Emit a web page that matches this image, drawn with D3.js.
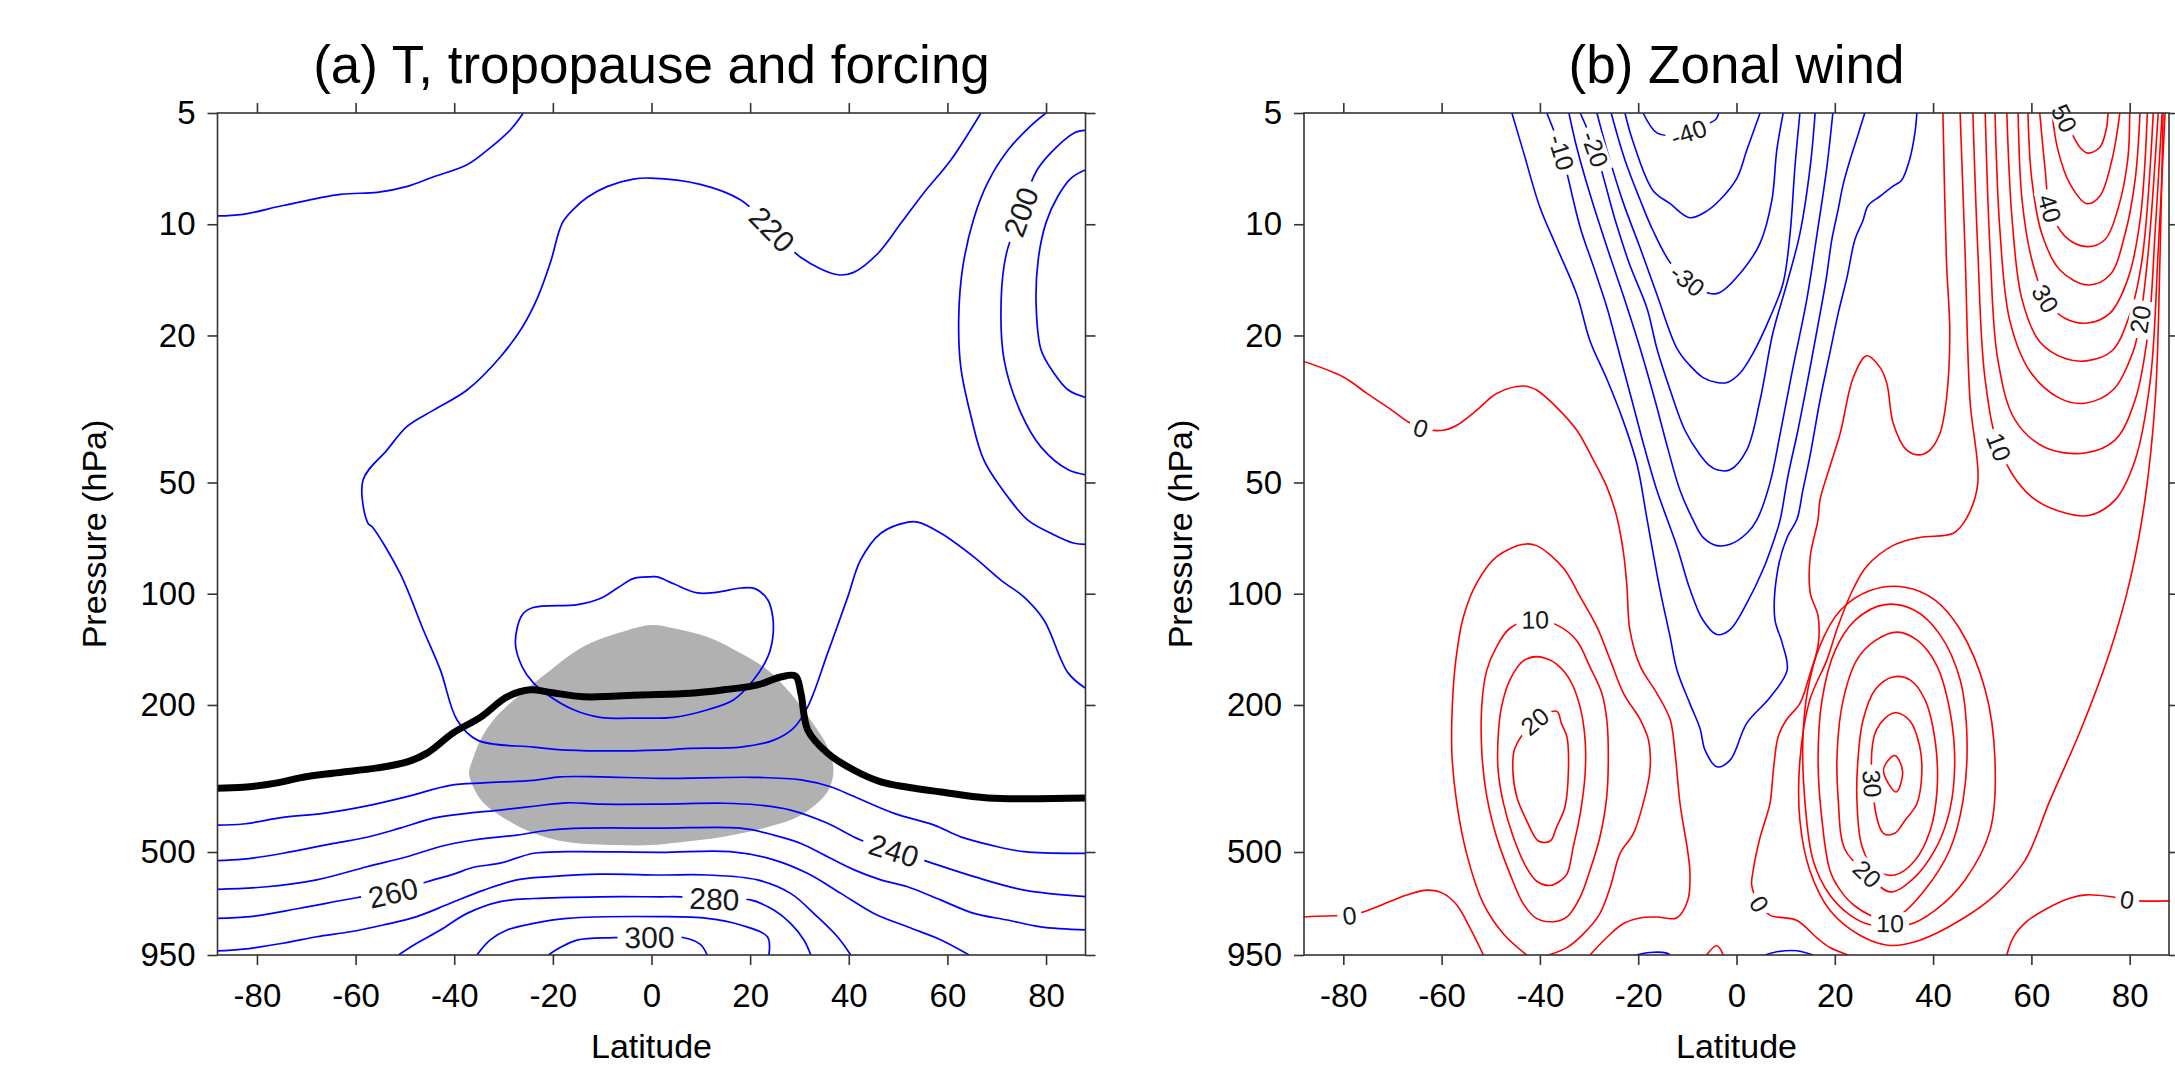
<!DOCTYPE html>
<html><head><meta charset="utf-8">
<script src="https://cdn.jsdelivr.net/npm/d3@7"></script>
<style>
body{margin:0;background:#fff;}
svg{display:block;font-family:"Liberation Sans",Arial,Helvetica,sans-serif;}
</style></head><body>
<svg id="chart" width="2175" height="1069"></svg>
<script>
// ---------- axes ----------
const latTicks = [-80, -60, -40, -20, 0, 20, 40, 60, 80];
const presTicks = [5, 10, 20, 50, 100, 200, 500, 950];
const latDomain = [-88, 88];
const presDomain = [5, 950];

// ---------- (a) temperature (K): contours as [latitude, pressure hPa] ----------
const T190 = [[88.3,7.1],[85.1,7.5],[82.4,8.4],[80.0,9.9],[78.4,12.5],[78.0,16.7],[79.0,21.9],[81.6,25.3],[84.5,28.1],[88.3,29.5]];
const T200 = [[88.3,5.56],[85.7,5.66],[81.0,6.4],[78.0,7.2],[74.9,9.25],[71.9,12.1],[70.9,16.0],[71.5,23.3],[74.9,32.4],[79.0,40.1],[84.5,46.2],[88.3,47.7]];
const T210polar = [[80.0,5.0],[77.0,5.4],[72.3,6.3],[68.2,7.7],[65.4,9.6],[63.1,13.1],[62.3,17.8],[62.7,24.3],[64.8,33.2],[67.4,43.5],[72.3,54.8],[76.3,63.2],[81.0,68.6],[85.7,73],[88.3,73.5]];
const T210trop = [[-24.0,109],[-15.0,107],[-10.4,103],[-6.9,96.5],[-3.7,91],[-0.2,90],[1.2,90],[4.5,94],[9.3,99.5],[13.4,99],[18.1,96.5],[21.1,97],[23.6,104],[24.6,116],[24.6,131],[23.6,148],[20.7,171],[16.6,194],[11.4,206],[4.5,216],[-2.2,217],[-10.4,216],[-15.8,206],[-20.5,190],[-24.0,174],[-26.2,158],[-27.6,136],[-26.2,114]];
const T220 = [[66.8,5.0],[60.7,6.7],[55.2,8.23],[50.6,9.93],[45.9,12.0],[41.0,13.5],[37.8,13.7],[30.3,12.3],[24.4,10.3],[18.1,8.6],[9.9,7.8],[-0.2,7.5],[-3.7,7.55],[-8.9,7.9],[-13.0,8.45],[-15.8,9.1],[-18.1,9.93],[-20.5,12.7],[-23.1,15.8],[-26.2,19.0],[-30.7,22.9],[-37.4,28.1],[-44.3,31.9],[-49.5,35.2],[-53.6,40.8],[-58.5,49.3],[-57.5,64.4],[-56.6,66],[-51.0,88],[-46.3,125],[-42.8,161],[-39.4,220],[-35.3,249],[-24.0,260],[-17.1,265],[1.8,265],[7.9,262],[18.1,260],[24.8,249],[28.8,231],[31.7,202],[35.7,145],[39.8,102],[42.4,81],[46.5,68.6],[52.0,64],[54.0,64],[58.7,68.6],[65.4,79.6],[70.9,92],[75.5,102],[79.6,118],[84.5,164],[88.5,182]];
const T230top = [[-88.5,9.5],[-82.8,9.4],[-74.7,8.9],[-63.1,8.3],[-55.6,8.2],[-49.5,7.9],[-44.3,7.45],[-37.4,6.9],[-33.3,6.3],[-28.6,5.55],[-26,5.0]];
const T230 = [[-88.5,423],[-82.8,420],[-74.7,403],[-66.5,393],[-57.7,375],[-49.6,354],[-40.8,330],[-34.0,325],[-23.9,320],[-18.5,313],[-10.4,313],[1.8,316],[20.8,314],[30.3,319],[36.3,333],[41.1,354],[49.2,393],[57.3,423],[62.7,455],[68.8,479],[75.6,499],[88.5,504]];
const T240 = [[-88.5,528],[-82.8,523],[-74.7,504],[-64.5,474],[-57.7,456],[-51.0,431],[-44.2,405],[-37.4,393],[-30.7,385],[-23.9,376],[-17.1,368],[-10.4,371],[1.8,371],[14.7,369],[21.5,373],[28.2,385],[35.7,418],[42.4,464],[49.1,495],[56.0,531],[65.4,583],[75.6,634],[88.5,661]];
const T250 = [[-88.5,631],[-78.0,621],[-67.9,595],[-57.7,548],[-49.6,515],[-42.8,483],[-36.1,464],[-27.3,450],[-20.5,436],[-13.7,431],[1.8,431],[18.1,431],[24.8,450],[30.3,474],[35.7,515],[41.1,559],[46.5,595],[51.9,621],[58.7,675],[65.4,733],[72.2,764],[78.9,797],[88.5,813]];
const T260 = [[-88.5,756],[-81.4,748],[-71.3,710],[-59.8,665],[-52.4,644],[-45.5,602],[-40.1,574],[-36.1,550],[-30.7,536],[-23.9,504],[-17.1,499],[1.8,501],[16.0,499],[24.8,525],[31.6,571],[38.4,647],[45.1,733],[51.9,797],[58.7,865],[64.4,950]];
const T270 = [[-88.5,927],[-82.8,916],[-74.7,883],[-67.9,848],[-61.1,822],[-54.4,788],[-47.6,748],[-40.8,688],[-34.0,634],[-27.3,595],[-20.5,583],[-10.4,574],[1.8,577],[11.3,577],[21.5,595],[28.2,647],[33.6,748],[37.7,848],[40.4,950]];
const T280 = [[-51.3,950],[-47.6,883],[-42.8,813],[-37.4,733],[-30.7,681],[-23.9,668],[-10.4,661],[1.8,661],[5.9,661],[13.0,670],[20.1,674],[24.8,718],[28.2,780],[30.9,865],[32.3,950]];
const T290 = [[-35.4,950],[-32.7,865],[-29.3,813],[-23.9,780],[-17.1,756],[1.8,748],[11.3,756],[18.1,788],[23.5,848],[23.8,950]];
const T300 = [[-20.9,950],[-18.5,907],[-15.1,866],[-7.7,853],[-0.6,850],[6.6,853],[9.9,889],[11.3,950]];
// label spots [level, latitude, pressure]
const tempLabelSpots = [[220,24.4,10.3],[200,74.9,9.25],[240,49.1,495],[260,-52.4,644],[280,13.0,670],[300,-0.6,850]];
// heating region outline and tropopause
const forcing = [[0,121.5],[4.5,124],[11.4,131],[18.1,145],[23.6,161],[28.2,186],[32.3,220],[35.7,260],[36.9,300],[35.9,340],[33.7,368],[29.6,402],[23.6,428],[14.6,455],[4.5,473],[0,479],[-6.9,479],[-17.1,470],[-24.0,444],[-29.2,410],[-34.1,368],[-36.1,334],[-37.0,306],[-36.3,282],[-34.7,249],[-32.1,220],[-27.2,190],[-20.5,161],[-13.8,139],[-6.9,128]];
const tropopause = [[-88.5,336],[-82.8,334],[-75.9,325],[-71.3,315],[-64.6,306],[-55.6,296],[-49.5,285],[-45.5,270],[-40.2,238],[-34.7,216],[-29.2,190],[-24.6,182],[-20.5,185],[-13.8,190],[-2.2,188],[7.9,186],[14.6,182],[21.5,176.5],[26.2,168],[29.2,167],[30.3,186],[31.7,234],[35.7,270],[41.0,300],[46.5,323],[52.0,334],[58.7,344],[68.2,357],[88.5,357]];

// ---------- (b) zonal wind (m/s) ----------
const Um5 = [[-45.7,5.0],[-43.4,6.34],[-40.0,9.0],[-36.5,11.6],[-32.5,15.5],[-29.8,20.7],[-26.3,26.4],[-23.1,33.9],[-20.2,44.9],[-18.2,62.9],[-15.6,97],[-13.5,131],[-12.1,161],[-9.5,198],[-7.4,232],[-6.4,265],[-4.0,294],[-1.3,282],[2.1,224],[6.8,191],[10.3,161],[9.3,136],[7.8,117],[8.4,86],[10.3,70.4],[12.3,62.9],[13.5,52.5],[15.0,42.1],[17.0,29.9],[19.0,22.3],[20.7,17.4],[22.5,13.9],[24.1,11.0],[25.7,9.8],[26.8,8.9],[29.2,8.4],[31.8,7.9],[33.6,7.6],[35.2,6.7],[36.3,5.66],[36.7,5.0]];
const Um5sfcA = [[-20.4,950],[-17.6,935],[-14.2,939],[-13.5,950]];
const Um5sfcB = [[5.8,950],[8.2,931],[12.3,925],[15.6,950]];
const Um10 = [[-38.6,5.0],[-35.7,6.34],[-31.8,10.2],[-29.2,12.9],[-26.3,16.9],[-24.1,21.7],[-21.3,29.9],[-18.6,40.8],[-16.2,52.5],[-14.1,62.9],[-12.1,74.6],[-9.5,97],[-6.8,118],[-4.0,129],[-1.3,125],[2.1,106],[5.4,86],[7.8,70.4],[8.9,62.9],[10.5,47.8],[12.5,36.1],[14.5,26.4],[16.4,19.3],[18.2,14.2],[19.4,11.0],[20.7,9.1],[21.7,7.8],[23.1,6.7],[24.7,5.74],[26.1,5.0]];
const Um15 = [[-34.1,5.0],[-32.5,6.2],[-29.8,8.3],[-26.3,11.6],[-23.1,15.5],[-19.6,21.7],[-16.6,29.9],[-13.9,40.8],[-11.5,52.5],[-8.9,62.9],[-6.8,70.4],[-4.0,74.1],[-1.3,73.5],[2.1,68.6],[4.2,62.9],[6.8,50.2],[8.9,36.8],[11.5,24.4],[14.3,16.0],[16.4,10.6],[18.4,6.98],[19.6,5.0]];
const Um20 = [[-31.8,5.0],[-28.8,6.25],[-24.5,9.93],[-21.7,12.9],[-18.2,16.9],[-16.2,21.7],[-13.5,28.1],[-10.5,36.1],[-7.4,42.1],[-5.4,45.1],[-4.0,46.2],[-1.3,46.2],[2.1,40.8],[4.8,29.9],[7.4,19.7],[10.3,14.4],[12.9,10.6],[15.0,6.98],[16.0,5.0]];
const Um25 = [[-28.4,5.0],[-26.3,6.34],[-23.1,8.7],[-19.6,11.6],[-16.2,15.5],[-12.1,21.7],[-9.5,24.1],[-6.8,26.0],[-4.0,26.8],[-1.9,26.8],[0.7,25.3],[3.4,22.3],[6.8,17.9],[9.5,14.4],[10.9,10.6],[11.9,6.98],[12.9,5.0]];
const Um30 = [[-25.5,5.0],[-22.7,6.7],[-19.6,8.6],[-17.0,10.4],[-13.5,12.7],[-9.9,14.2],[-5.4,15.4],[-3.4,15.3],[1.3,13.3],[4.8,11.25],[7.2,8.6],[8.2,6.3],[9.5,5.0]];
const Um35 = [[-22.7,5.0],[-21.1,5.95],[-17.0,8.1],[-13.5,8.8],[-9.5,9.6],[-6.0,9.2],[-3.4,8.6],[0.1,7.5],[2.1,6.3],[4.8,5.0]];
const Um40 = [[-19.0,5.0],[-16.2,5.66],[-12.5,5.75],[-9.5,5.63],[-6.5,5.4],[-4.2,5.2],[-3.6,5.0]];
const U0sh = [[-88.5,23.4],[-80.0,25.9],[-75.2,28.7],[-70.5,31.6],[-66.8,34.3],[-64.0,35.7],[-59.7,36.1],[-56.9,35.0],[-52.9,31.9],[-48.8,28.7],[-43.4,27.4],[-40.7,28.1],[-36.6,31.3],[-32.5,36.1],[-29.1,43.5],[-26.4,51.3],[-24.4,61.6],[-23.0,77.4],[-22.3,95.4],[-21.7,125],[-19.6,157],[-16.2,186],[-13.5,219],[-12.5,270],[-11.5,369],[-9.5,560],[-9.9,674],[-12.2,754],[-16.2,750],[-19.6,754],[-23.0,781],[-26.4,852],[-29.8,950]];
const U0sw = [[-88.5,750],[-80.7,743],[-79.0,743],[-76.3,729],[-70.5,681],[-67.1,654],[-63.0,634],[-59.7,647],[-56.9,696],[-54.2,804],[-51.5,950]];
const U0eq = [[-6.1,950],[-4.0,897],[-2.7,950]];
const U0nh = [[42.0,5.0],[42.7,12.4],[43.4,19.8],[42.7,29.9],[41.4,36.8],[39.4,40.8],[37.3,42.1],[34.6,40.8],[31.9,34.6],[30.6,27.0],[29.2,24.4],[26.5,22.7],[23.8,25.9],[21.1,36.8],[19.0,45.3],[17.0,55.6],[16.6,62.9],[15.0,79.4],[15.0,99.4],[16.6,115],[16.6,138],[15.0,164],[12.9,198],[10.2,219],[8.5,243],[7.5,301],[6.8,370],[4.8,456],[3.4,560],[3.1,616],[4.6,689],[6.8,741],[12.2,765],[16.3,852],[19.0,907],[22.7,950]];
const U0ne = [[55.0,950],[56.3,852],[59.0,772],[63.1,712],[67.8,667],[71.2,653],[75.9,660],[79.2,672],[82.1,678],[88.5,678]];
const U5sh = [[-42.7,950],[-47.4,834],[-51.5,690],[-54.9,506],[-56.9,370],[-57.9,272],[-57.8,198],[-57.1,151],[-55.6,116],[-52.9,93.8],[-48.8,79.4],[-43.4,73.5],[-40.7,74.1],[-35.2,85.3],[-31.8,102],[-28.4,123],[-25.7,151],[-23.0,186],[-19.6,219],[-17.9,249],[-17.6,300],[-19.0,370],[-21.0,446],[-23.7,505],[-25.7,623],[-27.8,734],[-31.2,834],[-34.5,907],[-38.3,950]];
const U10sh = [[-46.1,124],[-48.8,139],[-50.8,161],[-51.8,198],[-51.8,271],[-50.8,354],[-48.8,456],[-46.1,573],[-43.4,690],[-40.7,756],[-37.3,772],[-34.5,749],[-31.8,662],[-29.8,560],[-27.8,456],[-26.4,354],[-26.1,260],[-26.4,219],[-27.4,186],[-29.8,158],[-32.5,134],[-36.3,122],[-41.2,117.5]];
const U15sh = [[-40.7,148],[-43.4,152],[-46.1,171],[-47.8,202],[-48.5,244],[-48.5,301],[-47.4,370],[-45.4,456],[-42.7,552],[-40.7,599],[-37.9,616],[-35.9,599],[-34.5,574],[-33.2,483],[-31.8,394],[-30.8,307],[-30.8,249],[-31.8,203],[-33.9,171],[-36.6,155],[-38.6,150]];
const U20sh = [[-45.1,262],[-45.5,301],[-44.7,355],[-42.7,411],[-40.3,467],[-37.9,467],[-36.6,428],[-34.9,377],[-34.2,301],[-34.5,244],[-35.6,225],[-36.6,208],[-41.2,222]];
const U5nh = [[45.5,5.0],[46.5,11.8],[47.5,29.9],[49.1,50.2],[46.9,62.1],[44.1,68.6],[37.3,70.4],[31.8,74.1],[26.5,84.3],[23.6,98],[20.6,123],[18.4,151],[14.9,194],[12.9,283],[12.9,411],[14.9,560],[19.0,719],[25.1,840],[31.2,895],[37.3,866],[45.5,765],[52.6,654],[58.7,527],[63.8,362],[69.9,236],[76.0,143],[80.1,91.6],[83.1,55.8],[85.2,29.9],[86.2,11.8],[86.8,5.0]];
const U10nh = [[15.6,527],[13.9,362],[13.5,249],[14.5,182],[17.0,138],[21.1,111],[27.2,98],[34.3,96],[40.4,104],[45.5,125],[50.6,182],[52.6,283],[51.6,437],[46.5,595],[40.4,719],[34.9,787],[31.2,779],[27.2,787],[23.1,741],[19.0,654]];
const U15nh = [[19.0,560],[17.4,411],[16.6,283],[17.4,194],[20.0,143],[24.1,118],[30.2,107],[36.3,111],[41.4,129],[45.5,171],[46.9,249],[46.1,362],[43.4,493],[38.3,634],[33.2,741],[29.2,756],[24.1,700],[21.1,634]];
const U20nh = [[22.1,493],[20.7,362],[20.5,265],[21.7,194],[24.5,151],[28.2,134],[32.7,127],[36.9,134],[40.8,157],[43.4,207],[44.4,283],[43.4,385],[40.4,493],[35.7,595],[31.2,641],[26.5,571]];
const U25nh = [[25.7,221],[28.2,182],[31.8,168],[35.3,171],[38.3,193],[40.4,249],[40.8,341],[39.4,437],[36.3,527],[32.2,577],[28.2,560],[25.5,481],[24.5,362],[24.7,283]];
const U30nh = [[28.5,233],[32.2,210],[35.3,221],[37.3,260],[37.7,307],[36.7,370],[34.3,410],[32.2,445],[29.9,445],[27.6,326]];
const U35nh = [[32.2,274],[33.8,303],[32.5,344],[29.9,300]];
const U10np = [[48.1,5.0],[49.1,11.8],[50.6,26.4],[53.6,40.8],[59.7,54.2],[66.9,60.5],[71.9,61.3],[77.0,55.8],[81.1,43.5],[84.2,26.4],[85.8,11.8],[87.2,5.0]];
const U15np = [[50.6,5.0],[51.6,11.8],[53.2,23.4],[56.7,33.9],[62.8,40.2],[70.9,41.6],[77.0,38.4],[81.1,29.9],[83.8,19.3],[85.2,10.4],[86.6,5.0]];
const U20np = [[52.6,5.0],[53.6,10.4],[55.6,18.2],[59.7,25.0],[65.8,29.6],[70.9,30.5],[76.6,28.1],[80.7,22.1],[82.1,18.2],[83.8,11.8],[85.8,5.0]];
const U25np = [[55.0,5.0],[56.1,9.8],[58.1,16.0],[61.7,20.8],[66.9,23.1],[71.5,23.4],[76.4,22.0],[80.0,17.6],[82.5,12.5],[84.8,5.0]];
const U30np = [[57.3,5.0],[58.1,8.6],[60.1,12.5],[63.0,16.0],[66.9,18.0],[71.5,18.5],[76.0,17.4],[79.6,14.1],[82.1,9.8],[83.6,5.0]];
const U35np = [[59.3,5.0],[60.1,7.6],[62.2,10.7],[65.8,13.3],[71.5,14.6],[76.0,13.7],[79.0,10.7],[81.1,7.6],[82.1,5.0]];
const U40np = [[61.7,5.0],[62.8,7.1],[63.8,9.1],[66.9,10.8],[71.3,11.5],[75.0,11.0],[77.6,9.1],[79.6,6.69],[80.0,5.0]];
const U45np = [[64.2,5.0],[65.4,6.3],[67.9,7.8],[71.3,8.8],[73.9,8.4],[76.4,6.69],[78.0,5.0]];
const U50np = [[66.2,5.0],[67.9,5.56],[69.9,6.2],[71.5,6.42],[73.9,6.2],[75.2,5.56],[75.6,5.0]];
const windLabelSpots = [[-10,-35.7,6.34],[-20,-28.8,6.25],[-30,-9.9,14.2],[-40,-9.5,5.63],[0,-64.0,35.7],[0,-79.0,743],[10,-41.2,117.5],[20,-41.2,222],[0,4.6,689],[20,26.5,571],[10,31.2,779],[30,27.6,326],[0,79.2,672],[50,65.6,5.3],[40,63.8,9.1],[30,63.0,16.0],[20,82.0,18.0],[10,55.0,39.4]];

// ---------- tables built from the arrays ----------
const tempContours = [
  {level:190, pts:T190}, {level:200, pts:T200}, {level:210, pts:T210polar},
  {level:210, pts:T210trop, closed:true}, {level:220, pts:T220}, {level:230, pts:T230top},
  {level:230, pts:T230}, {level:240, pts:T240}, {level:250, pts:T250}, {level:260, pts:T260},
  {level:270, pts:T270}, {level:280, pts:T280}, {level:290, pts:T290}, {level:300, pts:T300}
];
const windContours = [
  {level:-5, pts:Um5}, {level:-5, pts:Um5sfcA}, {level:-5, pts:Um5sfcB},
  {level:-10, pts:Um10}, {level:-15, pts:Um15}, {level:-20, pts:Um20}, {level:-25, pts:Um25},
  {level:-30, pts:Um30}, {level:-35, pts:Um35}, {level:-40, pts:Um40},
  {level:0, pts:U0sh}, {level:0, pts:U0sw}, {level:0, pts:U0eq}, {level:0, pts:U0nh}, {level:0, pts:U0ne},
  {level:5, pts:U5sh}, {level:10, pts:U10sh, closed:true}, {level:15, pts:U15sh, closed:true}, {level:20, pts:U20sh, closed:true},
  {level:5, pts:U5nh}, {level:10, pts:U10nh, closed:true}, {level:15, pts:U15nh, closed:true}, {level:20, pts:U20nh, closed:true},
  {level:25, pts:U25nh, closed:true}, {level:30, pts:U30nh, closed:true}, {level:35, pts:U35nh, closed:true},
  {level:10, pts:U10np}, {level:15, pts:U15np}, {level:20, pts:U20np}, {level:25, pts:U25np}, {level:30, pts:U30np},
  {level:35, pts:U35np}, {level:40, pts:U40np}, {level:45, pts:U45np}, {level:50, pts:U50np}
];

// ---------- drawing ----------
const W = 2175, H = 1069, TOP = 113, BOTTOM = 955;
const svg = d3.select('#chart');
const defs = svg.append('defs');
const y = d3.scaleLog().domain(presDomain).range([TOP, BOTTOM]);

function drawPanel(o) {
  const x = d3.scaleLinear().domain(latDomain).range([o.left, o.right]);
  const g = svg.append('g');
  defs.append('clipPath').attr('id', o.id + '-clip').append('rect')
    .attr('x', o.left).attr('y', TOP).attr('width', o.right - o.left).attr('height', BOTTOM - TOP);
  const mask = defs.append('mask').attr('id', o.id + '-mask').attr('maskUnits', 'userSpaceOnUse')
    .attr('x', 0).attr('y', 0).attr('width', W).attr('height', H);
  mask.append('rect').attr('width', W).attr('height', H).attr('fill', '#fff');

  const open = d3.line().x(d => x(d[0])).y(d => y(d[1])).curve(d3.curveCatmullRom.alpha(0.5));
  const closed = d3.line().x(d => x(d[0])).y(d => y(d[1])).curve(d3.curveCatmullRomClosed.alpha(0.5));
  const plot = g.append('g').attr('clip-path', `url(#${o.id}-clip)`);
  if (o.shade) plot.append('path').attr('d', closed(o.shade)).attr('fill', '#b1b1b1');
  const lines = plot.append('g').attr('mask', `url(#${o.id}-mask)`);
  const paths = lines.selectAll('path').data(o.contours).join('path')
    .attr('d', c => (c.closed ? closed : open)(c.pts))
    .attr('fill', 'none').attr('stroke', c => o.color(c.level))
    .attr('stroke-width', o.lineWidth).attr('stroke-linejoin', 'round');
  if (o.thick) {
    const thickLine = d3.line().x(d => x(d[0])).y(d => y(d[1])).curve(d3.curveCatmullRom.alpha(0.5));
    plot.append('path').attr('d', thickLine(o.thick)).attr('fill', 'none')
      .attr('stroke', '#000').attr('stroke-width', 7).attr('stroke-linejoin', 'round');
  }

  // contour labels, aligned with the line they sit on
  const nodes = paths.nodes();
  const lab = g.append('g');
  o.labels.forEach(([lev, lat, p]) => {
    const px = x(lat), py = y(p);
    let best = null;
    nodes.forEach((node, i) => {
      if (o.contours[i].level !== lev) return;
      const L = node.getTotalLength();
      for (let s = 0; s <= L; s += 3) {
        const q = node.getPointAtLength(s);
        const d = (q.x - px) ** 2 + (q.y - py) ** 2;
        if (!best || d < best.d) best = { d, node, s, L };
      }
    });
    if (!best) return;
    const c = best.node.getPointAtLength(best.s);
    const a = best.node.getPointAtLength(Math.max(0, best.s - 12));
    const b = best.node.getPointAtLength(Math.min(best.L, best.s + 12));
    let ang = Math.atan2(b.y - a.y, b.x - a.x) * 180 / Math.PI;
    if (ang > 90) ang -= 180;
    if (ang < -90) ang += 180;
    const t = lab.append('text').attr('transform', `translate(${c.x},${c.y}) rotate(${ang})`)
      .attr('text-anchor', 'middle').attr('dy', '0.36em')
      .attr('font-size', o.labelSize).attr('fill', '#1a1a1a').text(String(lev));
    const w = t.node().getComputedTextLength();
    mask.append('rect').attr('transform', `translate(${c.x},${c.y}) rotate(${ang})`)
      .attr('x', -w / 2 - o.labelPad).attr('y', -o.labelSize * 0.45)
      .attr('width', w + 2 * o.labelPad).attr('height', o.labelSize * 0.9).attr('fill', '#000');
  });

  // frame and ticks
  const axStroke = '#333';
  const ax = g.append('g');
  ax.append('g').attr('transform', `translate(0,${BOTTOM})`)
    .call(d3.axisBottom(x).tickValues(latTicks).tickSize(10).tickPadding(19).tickSizeOuter(0).tickFormat(d => String(d)));
  ax.append('g').attr('transform', `translate(0,${TOP})`)
    .call(d3.axisTop(x).tickValues(latTicks).tickSize(10).tickSizeOuter(0).tickFormat(''));
  ax.append('g').attr('transform', `translate(${o.left},0)`)
    .call(d3.axisLeft(y).tickValues(presTicks).tickSize(10).tickPadding(12).tickSizeOuter(0).tickFormat(d => String(d)));
  ax.append('g').attr('transform', `translate(${o.right},0)`)
    .call(d3.axisRight(y).tickValues(presTicks).tickSize(10).tickSizeOuter(0).tickFormat(''));
  ax.selectAll('.domain').remove();
  ax.selectAll('line').attr('stroke', axStroke).attr('stroke-width', 1.6);
  ax.selectAll('text').attr('font-size', 33).attr('fill', '#000').attr('font-family', 'Liberation Sans, Arial, sans-serif');
  ax.append('rect').attr('x', o.left).attr('y', TOP).attr('width', o.right - o.left).attr('height', BOTTOM - TOP)
    .attr('fill', 'none').attr('stroke', axStroke).attr('stroke-width', 1.6);

  const cx = (o.left + o.right) / 2;
  g.append('text').attr('x', cx).attr('y', 83).attr('text-anchor', 'middle')
    .attr('font-size', 53).attr('fill', '#000').text(o.title);
  g.append('text').attr('x', cx).attr('y', 1058).attr('text-anchor', 'middle')
    .attr('font-size', 34).attr('fill', '#000').text('Latitude');
  g.append('text').attr('transform', `translate(${o.left - 112},${(TOP + BOTTOM) / 2}) rotate(-90)`)
    .attr('text-anchor', 'middle').attr('font-size', 34).attr('fill', '#000').text('Pressure (hPa)');
}

drawPanel({
  id: 'pa', left: 217.5, right: 1085.5, title: '(a) T, tropopause and forcing',
  contours: tempContours, labels: tempLabelSpots, color: () => '#0000ff',
  shade: forcing, thick: tropopause, labelSize: 30, labelPad: 7, lineWidth: 1.7
});
drawPanel({
  id: 'pb', left: 1304, right: 2169, title: '(b) Zonal wind',
  contours: windContours, labels: windLabelSpots, color: v => v < 0 ? '#0000ff' : '#ff0000',
  labelSize: 25, labelPad: 5, lineWidth: 1.6
});
</script></body></html>
